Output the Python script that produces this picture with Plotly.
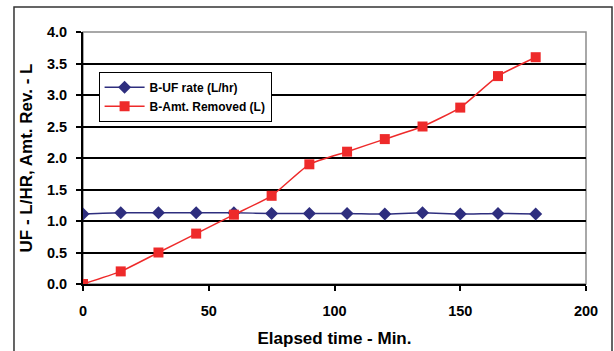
import plotly.graph_objects as go

time_min = [0, 15, 30, 45, 60, 75, 90, 105, 120, 135, 150, 165, 180]
uf_rate = [1.11, 1.13, 1.13, 1.13, 1.13, 1.12, 1.12, 1.12, 1.11, 1.13, 1.11, 1.12, 1.11]
amt_removed = [0.0, 0.2, 0.5, 0.8, 1.1, 1.4, 1.9, 2.1, 2.3, 2.5, 2.8, 3.3, 3.6]
x_ticks = [0, 50, 100, 150, 200]
y_ticks = [0.0, 0.5, 1.0, 1.5, 2.0, 2.5, 3.0, 3.5, 4.0]

FONT = "Liberation Sans, Arial, sans-serif"

fig = go.Figure()
fig.add_trace(go.Scatter(
    x=time_min, y=uf_rate, name="<b>B-UF rate (L/hr)</b>", mode="lines+markers",
    line=dict(color="#2E2E7E", width=1.5, shape="spline", smoothing=0.5),
    marker=dict(symbol="diamond", size=10, color="#2E2E7E"),
))
fig.add_trace(go.Scatter(
    x=time_min, y=amt_removed, name="<b>B-Amt. Removed (L)</b>", mode="lines+markers",
    line=dict(color="#EE2A2A", width=1.5, shape="spline", smoothing=0.5),
    marker=dict(symbol="square", size=10, color="#EE2A2A"),
))

# plot area border (gray top/right)
fig.add_shape(type="rect", xref="paper", yref="paper", x0=0, y0=0, x1=1, y1=1,
              line=dict(color="#8C8C8C", width=1.5), layer="below")
# outer chart border
fig.add_shape(type="rect", xref="paper", yref="paper", x0=-0.1372, y0=-0.30, x1=1.0517, y1=1.0992,
              line=dict(color="#333333", width=1.5), layer="below")

fig.update_layout(
    width=614, height=351,
    margin=dict(l=83, r=28, t=32, b=67, autoexpand=False),
    paper_bgcolor="white", plot_bgcolor="white",
    font=dict(family=FONT, color="black", size=14),
    showlegend=True,
    legend=dict(x=0.031, y=0.842, xanchor="left", yanchor="top",
                bordercolor="black", borderwidth=1, bgcolor="white",
                font=dict(size=12, family=FONT), itemwidth=40,
                tracegroupgap=0),
    xaxis=dict(range=[0, 200], tickvals=x_ticks, ticktext=[f"<b>{v}</b>" for v in x_ticks],
               showgrid=False, zeroline=False, showline=True, linecolor="black", linewidth=2,
               ticks="outside", ticklen=5, tickcolor="black", tickwidth=1.5,
               ticklabelstandoff=8, automargin=False,
               tickfont=dict(size=14.5, family=FONT),
               title=dict(text="<b>Elapsed time - Min.</b>", font=dict(size=17, family=FONT), standoff=14)),
    yaxis=dict(range=[0, 4.0], tickvals=y_ticks, ticktext=[f"<b>{v:.1f}</b>" for v in y_ticks],
               showgrid=True, gridcolor="black", gridwidth=1.5, zeroline=False,
               showline=True, linecolor="black", linewidth=2,
               ticks="outside", ticklen=5, tickcolor="black", tickwidth=1.5,
               ticklabelstandoff=6, automargin=False,
               tickfont=dict(size=14.5, family=FONT),
               title=dict(text="<b>UF - L/HR, Amt. Rev. - L</b>", font=dict(size=17, family=FONT), standoff=10)),
)

fig.write_html("out.html")
